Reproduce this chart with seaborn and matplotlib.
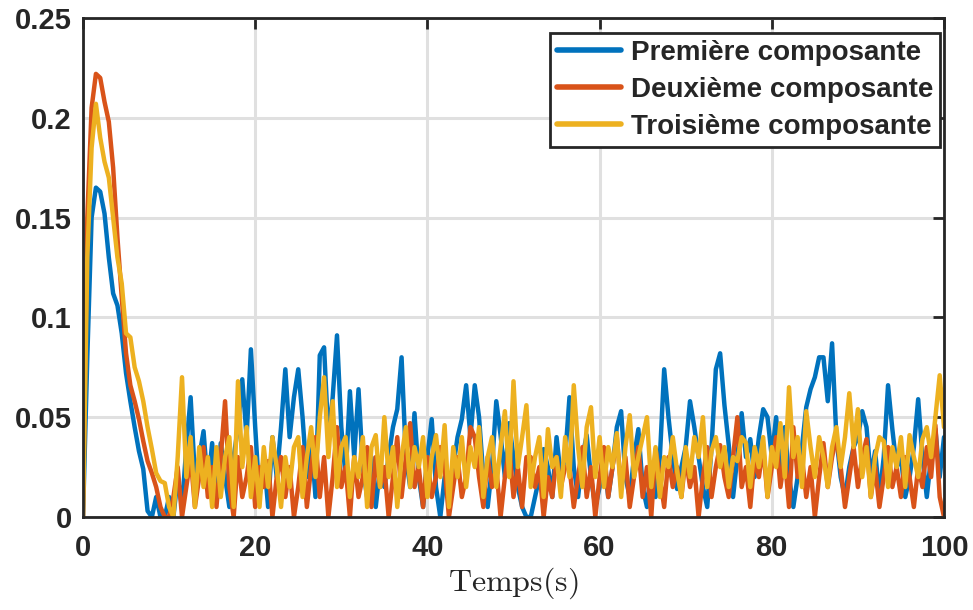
import matplotlib
matplotlib.use("Agg")
import matplotlib.pyplot as plt
import numpy as np
import pandas as pd
import seaborn as sns

# signal amplitudes in units of 1e-3, one sample every 0.5 s from 0 to 100 s
premiere = [
    0, 80, 150, 165, 163, 152, 130, 112, 106, 92,
    72, 58, 45, 33, 24, 3, 0, 10, 0, 0,
    10, 0, 20, 5, 35, 60, 20, 30, 43, 15,
    37, 10, 37, 20, 5, 30, 45, 69, 40, 84,
    45, 10, 30, 5, 40, 20, 45, 74, 40, 60,
    74, 50, 20, 40, 10, 81, 85, 40, 60, 91,
    45, 20, 63, 30, 64, 25, 10, 30, 5, 25,
    15, 30, 45, 54, 80, 30, 15, 52, 20, 5,
    30, 49, 15, 0, 20, 10, 25, 40, 49, 66,
    40, 66, 50, 20, 5, 25, 58, 41, 20, 47,
    30, 15, 5, 0, 0, 10, 20, 34, 25, 10,
    40, 20, 30, 60, 25, 10, 30, 41, 20, 5,
    15, 30, 10, 25, 45, 53, 20, 10, 30, 44,
    15, 5, 25, 10, 30, 74, 50, 30, 14, 25,
    35, 58, 45, 30, 15, 5, 35, 74, 82, 56,
    36, 10, 30, 52, 30, 39, 20, 40, 54, 50,
    30, 50, 25, 45, 20, 5, 20, 35, 55, 64,
    70, 80, 80, 58, 87, 40, 20, 10, 25, 35,
    40, 53, 45, 20, 33, 10, 30, 66, 44, 25,
    30, 10, 20, 35, 59, 30, 10, 30, 44, 20,
    40,
]
deuxieme = [
    0, 150, 205, 222, 220, 208, 198, 175, 140, 110,
    82, 66, 58, 49, 38, 28, 22, 15, 5, 0,
    0, 10, 25, 0, 15, 30, 5, 20, 35, 10,
    25, 5, 30, 58, 15, 0, 30, 10, 20, 35,
    5, 25, 15, 28, 0, 20, 30, 10, 25, 0,
    15, 35, 5, 25, 40, 10, 30, 0, 20, 45,
    15, 25, 0, 30, 10, 20, 35, 5, 30, 15,
    25, 0, 20, 40, 10, 30, 47, 15, 25, 5,
    30, 10, 20, 35, 25, 0, 15, 30, 10, 20,
    45, 40, 20, 5, 30, 15, 25, 0, 20, 35,
    10, 25, 5, 30, 30, 15, 25, 0, 20, 10,
    30, 15, 25, 25, 5, 20, 35, 10, 25, 0,
    20, 35, 10, 25, 40, 15, 30, 5, 20, 35,
    10, 25, 0, 34, 20, 5, 30, 15, 25, 10,
    30, 15, 25, 0, 20, 35, 10, 25, 36, 20,
    10, 30, 50, 15, 25, 5, 30, 20, 35, 10,
    25, 40, 15, 30, 5, 45, 20, 30, 10, 25,
    0, 20, 37, 15, 30, 40, 25, 5, 20, 35,
    15, 30, 39, 10, 25, 5, 20, 35, 15, 25,
    10, 30, 20, 5, 25, 15, 35, 20, 46, 10,
    0,
]
troisieme = [
    0, 130, 185, 207, 190, 178, 170, 150, 130, 117,
    92, 90, 75, 68, 58, 45, 34, 22, 18, 17,
    5, 0, 30, 70, 20, 40, 5, 35, 15, 30,
    5, 35, 10, 30, 40, 5, 68, 25, 45, 10,
    30, 5, 35, 15, 40, 25, 5, 30, 15, 35,
    40, 10, 30, 45, 20, 50, 70, 30, 58, 15,
    35, 40, 10, 30, 20, 40, 5, 35, 41, 15,
    50, 20, 35, 5, 30, 45, 15, 35, 25, 40,
    10, 30, 41, 20, 46, 5, 35, 20, 40, 15,
    35, 25, 45, 10, 30, 40, 15, 35, 53, 20,
    68, 25, 40, 56, 15, 30, 40, 10, 44, 25,
    30, 10, 40, 20, 66, 35, 15, 45, 55, 20,
    40, 15, 35, 25, 42, 10, 35, 51, 20, 30,
    40, 50, 15, 35, 10, 30, 25, 40, 23, 10,
    35, 20, 40, 30, 50, 15, 33, 40, 25, 35,
    15, 30, 28, 40, 37, 15, 35, 25, 40, 10,
    35, 25, 47, 20, 65, 30, 40, 15, 53, 35,
    20, 40, 30, 15, 35, 45, 25, 40, 62, 35,
    54, 20, 35, 10, 30, 40, 38, 15, 35, 25,
    40, 15, 41, 30, 20, 39, 45, 30, 50, 71,
    45,
]
series_names = ["Première composante", "Deuxième composante", "Troisième composante"]
colors = ["#0072BD", "#D95319", "#EDB120"]
x_ticks = [0, 20, 40, 60, 80, 100]
y_ticks = [0, 0.05, 0.1, 0.15, 0.2, 0.25]
y_tick_labels = ["0", "0.05", "0.1", "0.15", "0.2", "0.25"]

temps = np.linspace(0, 100, len(premiere))
frames = []
for name, vals in zip(series_names, [premiere, deuxieme, troisieme]):
    frames.append(pd.DataFrame({"Temps": temps, "Valeur": np.array(vals) / 1000.0, "Composante": name}))
data = pd.concat(frames, ignore_index=True)

sns.set_theme(style="white")
plt.rcParams["font.family"] = ["Liberation Sans", "DejaVu Sans"]
plt.rcParams["mathtext.fontset"] = "cm"

fig = plt.figure(figsize=(9.73, 6.10), dpi=100)
ax = fig.add_axes([0.0853, 0.1525, 0.8849, 0.818])

sns.lineplot(data=data, x="Temps", y="Valeur", hue="Composante", hue_order=series_names,
             palette=colors, linewidth=3.2, estimator=None, ax=ax)

ax.set_xlim(0, 100)
ax.set_ylim(0, 0.25)
ax.set_xticks(x_ticks)
ax.set_yticks(y_ticks)
ax.set_yticklabels(y_tick_labels)
ax.grid(True, color="#e0e0e0", linewidth=2.2)
ax.set_axisbelow(True)
for lbl in ax.get_xticklabels() + ax.get_yticklabels():
    lbl.set_fontweight("bold")
    lbl.set_fontsize(21)
    lbl.set_color("#262626")
ax.tick_params(direction="in", length=8, width=2, top=True, right=True, colors="#262626")
ax.tick_params(axis="x", pad=12)
ax.tick_params(axis="y", pad=8)
for spine in ax.spines.values():
    spine.set_linewidth(2)
    spine.set_color("#262626")
ax.set_xlabel(r"$\mathrm{Temps(s)}$", fontsize=23, labelpad=3)
ax.set_ylabel("")

leg = ax.legend(loc="upper right", bbox_to_anchor=(0.9954, 0.970), fontsize=20, frameon=True,
                fancybox=False, borderaxespad=0, handlelength=2.3, labelspacing=0.4,
                borderpad=0.25, handletextpad=0.35, title=None)
leg.get_frame().set_edgecolor("#262626")
leg.get_frame().set_linewidth(2)
leg.get_frame().set_alpha(1)
for text in leg.get_texts():
    text.set_fontweight("bold")
for line in leg.get_lines():
    line.set_linewidth(4)

fig.savefig("out.png", dpi=100)
